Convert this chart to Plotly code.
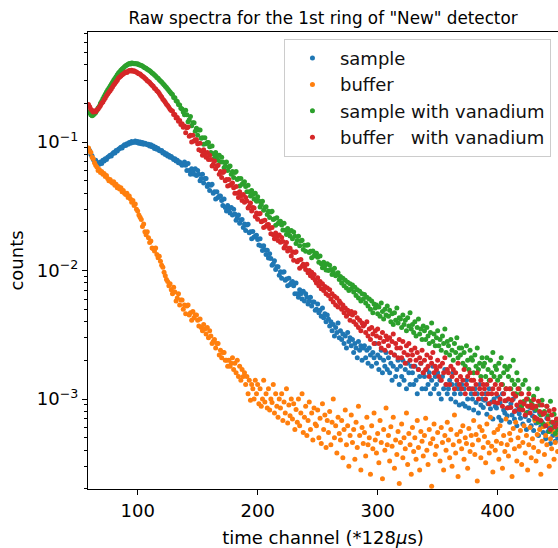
import plotly.graph_objects as go

channels = list(range(59, 451))

sample = [
0.089,0.086,0.080,0.078,0.073,0.071,0.072,0.068,0.069,0.067,
0.070,0.068,0.072,0.071,0.074,0.073,0.076,0.077,0.079,0.078,
0.081,0.083,0.082,0.086,0.085,0.088,0.089,0.091,0.090,0.093,
0.095,0.094,0.097,0.096,0.099,0.098,0.101,0.099,0.100,0.102,
0.099,0.101,0.098,0.100,0.097,0.099,0.096,0.098,0.097,0.095,
0.096,0.093,0.095,0.092,0.093,0.089,0.091,0.088,0.089,0.086,
0.085,0.086,0.082,0.083,0.080,0.081,0.078,0.079,0.076,0.077,
0.075,0.073,0.074,0.071,0.072,0.069,0.070,0.068,0.066,0.067,
0.070,0.066,0.060,0.068,0.060,0.056,0.062,0.059,0.056,0.062,
0.055,0.060,0.056,0.050,0.052,0.056,0.048,0.052,0.052,0.045,
0.047,0.042,0.046,0.047,0.040,0.041,0.036,0.041,0.037,0.038,
0.038,0.035,0.032,0.036,0.031,0.029,0.032,0.030,0.028,0.031,
0.027,0.030,0.0275,0.0246,0.0257,0.027,0.0233,0.0247,0.0249,0.0216,
0.0230,0.0205,0.0226,0.0229,0.0197,0.0200,0.0177,0.0201,0.0182,0.0185,
0.0188,0.0174,0.0158,0.0177,0.0155,0.0143,0.0156,0.0145,0.0133,0.0144,
0.0125,0.0135,0.0124,0.0110,0.0113,0.0119,0.0102,0.0107,0.0107,0.0092,
0.0098,0.0087,0.0097,0.0098,0.0084,0.0086,0.0076,0.0087,0.0078,0.0080,
0.0082,0.0076,0.0066,0.0080,0.0066,0.0062,0.0071,0.0066,0.0060,0.0069,
0.0058,0.0066,0.0062,0.0055,0.0058,0.0062,0.0053,0.0057,0.0057,0.0049,
0.0050,0.0055,0.0047,0.0049,0.0044,0.0051,0.0043,0.0046,0.0040,0.0045,
0.0042,0.0037,0.0040,0.0034,0.0038,0.0031,0.0036,0.0033,0.0039,0.0030,
0.0034,0.0029,0.0032,0.0027,0.0031,0.0025,0.0033,0.0028,0.0030,0.0026,
0.0029,0.0023,0.0027,0.0025,0.0021,0.0028,0.0024,0.0026,0.0020,0.0025,
0.0026,0.0021,0.0024,0.0019,0.0025,0.0022,0.0018,0.0023,0.0021,0.0027,
0.0019,0.0022,0.0017,0.0021,0.0024,0.0016,0.0020,0.0018,0.0023,0.0017,
0.0021,0.0016,0.0019,0.0014,0.0018,0.0022,0.0015,0.0017,0.0020,0.0013,
0.0018,0.0015,0.0020,0.0014,0.0017,0.0012,0.0019,0.0016,0.0013,0.0018,
0.0016,0.0013,0.0018,0.0014,0.0011,0.0017,0.0015,0.0019,0.0012,0.0016,
0.0015,0.0012,0.0017,0.0013,0.0016,0.0011,0.0014,0.0018,0.0012,0.0015,
0.0013,0.0016,0.0011,0.0014,0.0010,0.0015,0.0012,0.0017,0.0013,0.0011,
0.0012,0.0014,0.0010,0.0013,0.0016,0.0011,0.00095,0.0013,0.0012,0.0009,
0.0011,0.0013,0.00092,0.0012,0.00088,0.0014,0.0010,0.00085,0.0012,0.0011,
0.0010,0.00082,0.0012,0.00094,0.0011,0.00078,0.0013,0.0009,0.0010,0.00086,
0.00098,0.0011,0.00076,0.00092,0.0012,0.00084,0.00095,0.0007,0.001,0.00088,
0.00085,0.00105,0.00072,0.00093,0.00068,0.0011,0.00082,0.00078,0.00097,0.00074,
0.00086,0.00066,0.00092,0.00075,0.001,0.0007,0.00081,0.00062,0.00088,0.00077,
0.00071,0.00083,0.00064,0.00095,0.00073,0.00058,0.00079,0.00068,0.00086,0.00062,
0.00074,0.00057,0.00081,0.00065,0.0007,0.00052,0.00077,0.00061,0.00066,0.00055,
0.00063,0.00049,0.00071,0.00056,0.0006,0.00045,0.00058,0.00052,0.00064,0.00047,
0.00055,0.0005,
]

buffer = [
0.090,0.085,0.083,0.076,0.074,0.069,0.066,0.064,0.060,0.061,
0.058,0.059,0.056,0.057,0.054,0.055,0.052,0.050,0.051,0.049,
0.048,0.049,0.046,0.047,0.044,0.045,0.043,0.044,0.041,0.042,
0.040,0.039,0.040,0.037,0.038,0.036,0.034,0.035,0.032,0.033,
0.030,0.029,0.027,0.026,0.025,0.022,0.023,0.020,0.019,0.020,
0.018,0.0165,0.017,0.015,0.0148,0.0142,0.0150,0.0133,0.0126,0.0129,
0.0118,0.0110,0.0106,0.0097,0.0091,0.0085,0.0082,0.0076,0.0079,0.0071,
0.0066,0.0074,0.0068,0.0058,0.0061,0.0066,0.0054,0.0059,0.0059,0.0050,
0.0054,0.0046,0.0053,0.0054,0.0045,0.0047,0.0041,0.0048,0.0043,0.0045,
0.0045,0.0041,0.0037,0.0042,0.0036,0.0034,0.0038,0.0035,0.0032,0.0036,
0.0030,0.0034,0.0031,0.0027,0.0028,0.0029,0.0025,0.0027,0.0027,0.0022,
0.0024,0.0021,0.0023,0.0023,0.0020,0.0020,0.0018,0.0020,0.0018,0.0019,
0.0021,0.0017,0.0019,0.0016,0.0020,0.0015,0.0018,0.0014,0.0017,0.0015,
0.0016,0.0013,0.0015,0.0011,0.0014,0.00098,0.0013,0.0012,0.0010,0.0014,
0.0011,0.0013,0.00092,0.0012,0.00088,0.0010,0.0014,0.00095,0.0011,0.00085,
0.0012,0.00082,0.0010,0.00094,0.0013,0.00078,0.0011,0.00088,0.00072,0.001,
0.00085,0.0011,0.00068,0.00095,0.00078,0.0012,0.00065,0.0009,0.00074,0.001,
0.0007,0.00092,0.00058,0.00083,0.00066,0.001,0.00062,0.00078,0.0011,0.00055,
0.00072,0.00088,0.00052,0.00068,0.00095,0.00058,0.00078,0.00048,0.00085,0.00064,
0.00062,0.00082,0.0005,0.00071,0.00045,0.00092,0.00058,0.00075,0.00042,0.00068,
0.00055,0.0008,0.00044,0.00066,0.001,0.0005,0.00062,0.00038,0.00072,0.00054,
0.00048,0.00068,0.00035,0.00058,0.00082,0.00044,0.00062,0.0003,0.00052,0.00075,
0.00046,0.00058,0.00034,0.00066,0.00042,0.00088,0.00052,0.00028,0.0006,0.00045,
0.00055,0.00036,0.00072,0.00044,0.0005,0.00026,0.00062,0.00041,0.00078,0.00048,
0.00038,0.00054,0.00032,0.00068,0.00046,0.00024,0.00058,0.0004,0.00085,0.00044,
0.00052,0.00033,0.00061,0.00043,0.00072,0.00029,0.00048,0.00037,0.00056,0.00022,
0.00046,0.00064,0.00035,0.0005,0.00041,0.00078,0.00031,0.00054,0.00044,0.00026,
0.0006,0.00039,0.0005,0.00034,0.00068,0.00042,0.00028,0.00056,0.00047,0.00036,
0.00052,0.00071,0.0004,0.00031,0.00058,0.00045,0.00021,0.00049,0.00064,0.00037,
0.00043,0.00055,0.00019,0.00033,0.0006,0.00046,0.00028,0.00052,0.0004,0.00066,
0.00048,0.00035,0.00058,0.0003,0.00044,0.00075,0.00038,0.00053,0.00025,0.00047,
0.00056,0.00041,0.00062,0.00034,0.0005,0.00045,0.00029,0.00059,0.00039,0.00052,
0.00044,0.00068,0.00037,0.00053,0.00023,0.00048,0.00061,0.00035,0.00057,0.00042,
0.00051,0.00032,0.00064,0.00046,0.00038,0.00072,0.00043,0.00027,0.00055,0.0004,
0.00047,0.00058,0.00034,0.00062,0.00045,0.00029,0.00052,0.00039,0.0007,0.00044,
0.00036,0.00054,0.00048,0.00025,0.00059,0.00041,0.00066,0.00033,0.0005,0.00043,
0.00057,0.00031,0.00046,0.00062,0.00038,0.00052,0.00028,0.00044,0.0006,0.00035,
0.00049,0.00042,0.00068,0.00033,0.00053,0.00039,0.00058,0.00026,0.00047,0.00061,
0.00037,0.00052,0.00044,0.00064,0.0003,0.00049,0.00041,0.00056,0.00034,0.00046,
0.00053,0.00039,
]

sample_vanadium = [
0.172,0.168,0.163,0.160,0.162,0.166,0.170,0.176,0.184,0.190,
0.200,0.208,0.217,0.226,0.235,0.245,0.254,0.262,0.272,0.281,
0.292,0.303,0.312,0.322,0.333,0.345,0.352,0.362,0.370,0.377,
0.385,0.392,0.398,0.402,0.408,0.405,0.412,0.410,0.407,0.409,
0.404,0.406,0.400,0.397,0.393,0.390,0.384,0.378,0.375,0.368,
0.364,0.358,0.352,0.345,0.340,0.332,0.327,0.318,0.313,0.305,
0.298,0.293,0.285,0.279,0.272,0.265,0.258,0.252,0.245,0.238,
0.234,0.222,0.221,0.209,0.207,0.196,0.194,0.183,0.181,0.171,
0.163,0.177,0.163,0.144,0.149,0.158,0.134,0.141,0.141,0.121,
0.128,0.113,0.124,0.124,0.107,0.108,0.096,0.108,0.097,0.099,
0.099,0.092,0.083,0.093,0.081,0.075,0.083,0.078,0.072,0.079,
0.070,0.076,0.070,0.063,0.065,0.070,0.060,0.064,0.065,0.056,
0.059,0.053,0.058,0.059,0.051,0.052,0.0455,0.052,0.047,0.048,
0.049,0.045,0.041,0.046,0.041,0.038,0.042,0.039,0.036,0.040,
0.0346,0.0375,0.0347,0.0312,0.0327,0.0346,0.0295,0.0309,0.0313,0.0273,
0.0289,0.0258,0.0285,0.0289,0.0249,0.0253,0.0225,0.0257,0.0232,0.0239,
0.0242,0.0226,0.0207,0.0233,0.0206,0.0191,0.0212,0.0200,0.0186,0.0205,
0.0177,0.0199,0.0185,0.0162,0.0171,0.0185,0.0156,0.0170,0.0172,0.0146,
0.0157,0.0141,0.0157,0.0159,0.0138,0.0141,0.0126,0.0142,0.0130,0.0136,
0.0136,0.0127,0.0116,0.0130,0.0113,0.0105,0.0116,0.0109,0.0101,0.0113,
0.0100,0.0110,0.0102,0.0093,0.0097,0.0104,0.0091,0.0093,0.0096,0.0085,
0.0090,0.0080,0.0087,0.0076,0.0084,0.0073,0.0081,0.0070,0.0079,0.0072,
0.0077,0.0068,0.0074,0.0064,0.0071,0.0061,0.0069,0.0058,0.0066,0.0060,
0.0065,0.0056,0.0062,0.0053,0.0060,0.0050,0.0058,0.0047,0.0055,0.0051,
0.0054,0.0046,0.0052,0.0044,0.0056,0.0048,0.0042,0.0050,0.0045,0.0053,
0.0044,0.0049,0.0040,0.0046,0.0038,0.0047,0.0041,0.0051,0.0039,0.0043,
0.0042,0.0036,0.0045,0.0038,0.0041,0.0034,0.0043,0.0037,0.0047,0.0035,
0.0038,0.0033,0.0040,0.0031,0.0036,0.0042,0.0032,0.0035,0.0029,0.0037,
0.0034,0.0029,0.0036,0.0031,0.0027,0.0033,0.0039,0.0028,0.0032,0.0026,
0.0030,0.0034,0.0026,0.0029,0.0024,0.0031,0.0027,0.0035,0.0023,0.0028,
0.0026,0.0022,0.0029,0.0024,0.0020,0.0027,0.0023,0.0030,0.0021,0.0025,
0.0022,0.0025,0.0019,0.0023,0.0018,0.0026,0.0020,0.0017,0.0024,0.0021,
0.0020,0.0016,0.0022,0.0018,0.0025,0.0017,0.0019,0.0015,0.0021,0.0018,
0.0019,0.0015,0.0021,0.0017,0.0014,0.0020,0.0016,0.0023,0.0015,0.0018,
0.0017,0.0014,0.0019,0.0015,0.0021,0.0013,0.0016,0.0018,0.0012,0.0017,
0.0015,0.0018,0.0012,0.0014,0.0020,0.0013,0.0011,0.0016,0.0014,0.0012,
0.0011,0.00088,0.0013,0.00096,0.0014,0.00078,0.001,0.0012,0.00088,0.00096,
0.0009,0.00105,0.00071,0.00083,0.0012,0.00066,0.0009,0.00075,0.00098,0.00064,
0.0008,0.00062,0.00088,0.00074,0.00056,0.00096,0.00066,0.0006,0.00076,0.00054,
0.00068,0.00058,
]

buffer_vanadium = [
0.196,0.188,0.180,0.176,0.171,0.174,0.172,0.178,0.181,0.186,
0.192,0.200,0.205,0.213,0.220,0.229,0.236,0.244,0.250,0.258,
0.268,0.278,0.285,0.294,0.302,0.315,0.320,0.326,0.334,0.338,
0.345,0.350,0.348,0.356,0.360,0.357,0.362,0.355,0.358,0.352,
0.350,0.345,0.340,0.338,0.330,0.325,0.320,0.314,0.308,0.300,
0.296,0.290,0.283,0.276,0.272,0.262,0.258,0.250,0.246,0.238,
0.230,0.224,0.215,0.210,0.204,0.197,0.192,0.186,0.180,0.176,
0.174,0.164,0.164,0.154,0.155,0.145,0.147,0.137,0.139,0.130,
0.133,0.118,0.129,0.131,0.111,0.113,0.100,0.113,0.102,0.104,
0.104,0.097,0.087,0.098,0.085,0.079,0.087,0.082,0.076,0.083,
0.073,0.079,0.073,0.065,0.067,0.071,0.062,0.065,0.066,0.056,
0.059,0.053,0.058,0.059,0.050,0.051,0.0455,0.051,0.046,0.047,
0.048,0.044,0.040,0.045,0.040,0.037,0.041,0.038,0.035,0.039,
0.034,0.037,0.0347,0.0307,0.0317,0.0335,0.029,0.031,0.0307,0.0263,
0.028,0.0251,0.0275,0.0278,0.024,0.0243,0.0216,0.0246,0.0221,0.0227,
0.0228,0.0212,0.0193,0.0216,0.0190,0.0177,0.0196,0.0184,0.0171,0.0189,
0.0166,0.0181,0.0168,0.0150,0.0155,0.0165,0.0142,0.0149,0.0149,0.0130,
0.0140,0.0120,0.0138,0.0140,0.0117,0.0120,0.0104,0.0122,0.0108,0.0112,
0.0108,0.0102,0.0112,0.0096,0.0100,0.0091,0.0097,0.0088,0.0093,0.0084,
0.0080,0.0088,0.0076,0.0082,0.0072,0.0079,0.0070,0.0075,0.0066,0.0073,
0.0064,0.0071,0.0060,0.0066,0.0057,0.0063,0.0054,0.0061,0.0052,0.0058,
0.0056,0.0050,0.0054,0.0047,0.0051,0.0044,0.0049,0.0046,0.0041,0.0048,
0.0045,0.0040,0.0047,0.0038,0.0043,0.0036,0.0041,0.0034,0.0039,0.0037,
0.0038,0.0033,0.0040,0.0031,0.0035,0.0029,0.0036,0.0032,0.0027,0.0034,
0.0031,0.0035,0.0027,0.0030,0.0025,0.0033,0.0028,0.0024,0.0031,0.0029,
0.0026,0.0030,0.0023,0.0028,0.0032,0.0022,0.0027,0.0025,0.0021,0.0029,
0.0025,0.0021,0.0028,0.0023,0.0019,0.0026,0.0022,0.0027,0.0020,0.0024,
0.0022,0.0018,0.0025,0.0020,0.0023,0.0017,0.0021,0.0019,0.0024,0.0016,
0.0020,0.0017,0.0022,0.0018,0.0015,0.0021,0.0019,0.0023,0.0016,0.0018,
0.0017,0.0020,0.0015,0.0018,0.0014,0.0019,0.0016,0.0021,0.0013,0.0017,
0.0016,0.0013,0.0018,0.0015,0.0017,0.0012,0.0016,0.0014,0.0019,0.0013,
0.0015,0.0012,0.0014,0.0017,0.0011,0.0013,0.0015,0.0012,0.0016,0.0014,
0.0012,0.0014,0.0011,0.0013,0.0016,0.0010,0.0012,0.0014,0.0011,0.0013,
0.0012,0.0010,0.0013,0.0011,0.00092,0.0014,0.0011,0.0012,0.00095,0.0013,
0.0011,0.00093,0.0012,0.001,0.0013,0.00088,0.0011,0.00097,0.0012,0.00085,
0.001,0.0012,0.00086,0.00098,0.0011,0.0008,0.00105,0.0009,0.0012,0.00083,
0.00095,0.0011,0.00082,0.00092,0.00075,0.001,0.00088,0.0011,0.00078,0.0009,
0.00085,0.00099,0.00072,0.00088,0.0007,0.00096,0.0008,0.00068,0.0009,0.00076,
0.00078,0.00062,0.00088,0.0007,0.00081,0.00058,0.00075,0.00066,0.00083,0.00061,
0.0007,0.00064,
]

series_names = ["sample", "buffer", "sample with vanadium", "buffer   with vanadium"]
series_values = [sample, buffer, sample_vanadium, buffer_vanadium]
series_colors = ["#1f77b4", "#ff7f0e", "#2ca02c", "#d62728"]

x_ticks = [100, 200, 300, 400]
y_ticks = [1e-3, 1e-2, 1e-1]
y_ticktext = ["10<sup>−3</sup>", "10<sup>−2</sup>", "10<sup>−1</sup>"]
y_minor = [m * 10.0 ** e for e in (-4, -3, -2, -1) for m in range(2, 10)]

fig = go.Figure()
for name, vals, col in zip(series_names, series_values, series_colors):
    fig.add_trace(go.Scatter(
        x=channels[:len(vals)], y=vals, mode="markers", name=name,
        marker=dict(color=col, size=5, line=dict(width=0)),
    ))

font_family = "DejaVu Sans"
fig.update_layout(
    width=558, height=548,
    margin=dict(l=88, r=0, t=32, b=59),
    paper_bgcolor="white", plot_bgcolor="white",
    font=dict(family=font_family, color="black"),
    title=dict(text='Raw spectra for the 1st ring of "New" detector',
               x=0.5, xref="paper", xanchor="center",
               y=1 - 18.5 / 548, yref="container", yanchor="middle",
               font=dict(size=16.8, family=font_family, color="black")),
    showlegend=True,
    legend=dict(x=0.985, y=0.985, xanchor="right", yanchor="top",
                bgcolor="rgba(255,255,255,0.8)", bordercolor="#cccccc", borderwidth=1,
                font=dict(size=18, family=font_family, color="#111111"),
                itemwidth=45, tracegroupgap=0),
)
fig.update_xaxes(
    range=[58.6, 450.3], showline=True, linecolor="black", linewidth=1.1, mirror=True,
    showgrid=False, zeroline=False, ticks="outside", ticklen=5, tickwidth=1.1, tickcolor="black",
    tickmode="array", tickvals=x_ticks, tickfont=dict(size=18),
    title=dict(text="time channel (*128<i>μ</i>s)", font=dict(size=18), standoff=12),
)
fig.update_yaxes(
    type="log", range=[-3.70, -0.144], showline=True, linecolor="black", linewidth=1.1,
    showgrid=False, zeroline=False, ticks="outside", ticklen=5, tickwidth=1.1, tickcolor="black",
    tickmode="array", tickvals=y_ticks, ticktext=y_ticktext, tickfont=dict(size=18),
    minor=dict(tickmode="array", tickvals=y_minor, ticks="outside", ticklen=3,
               tickwidth=0.8, tickcolor="black", showgrid=False),
    title=dict(text="counts", font=dict(size=18), standoff=8),
)

fig.write_html("out.html")
